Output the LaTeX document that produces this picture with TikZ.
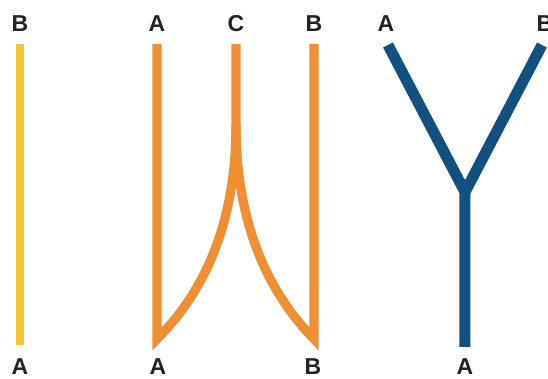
\documentclass[tikz,border=0pt]{standalone}
\usepackage{fontspec}
\setmainfont{Liberation Sans}
\usepackage{xcolor}
\usepackage{tikz}
\usetikzlibrary{positioning}

\definecolor{strandyellow}{HTML}{F7C331}
\definecolor{strandorange}{HTML}{F08E34}
\definecolor{strandblue}{HTML}{12517F}
\definecolor{labelgray}{HTML}{222222}

\begin{document}
\begin{tikzpicture}[
    x=0.5pt, y=-0.5pt,
    lbl/.style={
        font=\fontsize{11.5}{13}\selectfont\bfseries,
        text=labelgray,
        inner sep=0pt
    },
    strand/.style={line cap=butt, line join=miter}
]
\clip (0,0) rectangle (548,379);

% --- Etiquetas ---
\node[lbl] (yB) at (20,24) {B};
\node[lbl] (yA) at (20,367) {A};

\node[lbl] (oA) at (157,24) {A};
\node[lbl] (oC) at (236,24) {C};
\node[lbl] (oB) at (314,24) {B};
\node[lbl] (oA2) at (158,367) {A};
\node[lbl] (oB2) at (313,367) {B};

\node[lbl] (bA) at (386,24) {A};
\node[lbl] (bB) at (545,24) {B};
\node[lbl] (bA2) at (465,367) {A};

% --- Extremos ---
\coordinate (yTop) at (20,44);
\coordinate (yBot) at (20,345);

\coordinate (oLTop) at (157,44);
\coordinate (oLBot) at (157,339);
\coordinate (oMTop) at (236,44);
\coordinate (oMid) at (236,125);
\coordinate (oRTop) at (314,44);
\coordinate (oRBot) at (314,339);

\coordinate (bLTop) at (388,45);
\coordinate (bRTop) at (542,45);
\coordinate (bJoin) at (465,192);
\coordinate (bBot) at (465,347);

% --- Hebras ---
\draw[strand, strandyellow, line width=4pt] (yTop) -- (yBot);

\draw[strand, strandorange, line width=4.6pt]
    (oLTop) -- (oLBot) .. controls (200,296) and (236,230) .. (oMid) -- (oMTop);
\draw[strand, strandorange, line width=4.6pt]
    (oRTop) -- (oRBot) .. controls (272,296) and (236,230) .. (oMid);

\draw[strand, strandblue, line width=5.5pt] (bLTop) -- (bJoin) -- (bBot);
\draw[strand, strandblue, line width=5.5pt] (bRTop) -- (bJoin);

\end{tikzpicture}
\end{document}
